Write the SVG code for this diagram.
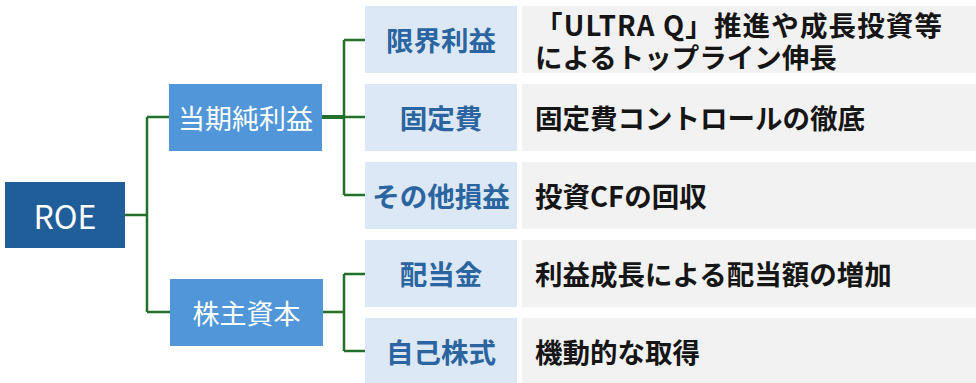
<svg xmlns="http://www.w3.org/2000/svg" width="976" height="383" viewBox="0 0 976 383">
<style>
.root{fill:#1F5E99}
.mid{fill:#5096D8}
.lab{fill:#DCE8F5}
.desc{fill:#F2F2F2}
.t{font-family:"Noto Sans CJK JP","Noto Sans",sans-serif}
.tw{fill:#FFFFFF;font-size:27px;text-anchor:middle;dominant-baseline:central}
.tl{fill:#2A64A1;font-size:27.5px;font-weight:bold;text-anchor:middle;dominant-baseline:central}
.td{fill:#151515;font-size:27.5px;font-weight:bold;dominant-baseline:central}
.c{fill:none;stroke:#22702A;stroke-width:2.5}
</style>
<rect width="976" height="383" fill="#FFFFFF"/>
<g id="connectors">
<path class="c" d="M125,215 H147 M147,117 V312 M147,117 H169 M147,312 H170"/>
<path class="c" d="M322,117 H365 M344,40 V195 M344,40 H365 M344,195 H365"/>
<path class="c" d="M323,312 H344 M344,274 V351 M344,274 H365 M344,351 H365"/>
<path fill="none" stroke="#22702A" stroke-width="4" d="M322,117 H344"/>
</g>
<g id="roe"><rect class="root" x="5" y="182" width="120" height="66"/><text class="t tw" x="65" y="215" style="font-size:32px">ROE</text></g>
<g id="net-income"><rect class="mid" x="169" y="84" width="153" height="67"/><text class="t tw" x="245.5" y="117">当期純利益</text></g>
<g id="equity"><rect class="mid" x="170" y="279" width="153" height="67"/><text class="t tw" x="246.5" y="312">株主資本</text></g>
<g id="marginal-profit"><rect class="lab" x="365" y="6" width="152" height="67"/><text class="t tl" x="441" y="39">限界利益</text><rect class="desc" x="522" y="6" width="454" height="67"/><text class="t td"><tspan x="535" y="23.5" textLength="407" lengthAdjust="spacing">「ULTRA Q」推進や成長投資等</tspan><tspan x="535" y="56">によるトップライン伸長</tspan></text></g>
<g id="fixed-cost"><rect class="lab" x="365" y="84" width="152" height="67"/><text class="t tl" x="441" y="117">固定費</text><rect class="desc" x="522" y="84" width="454" height="67"/><text class="t td" x="535" y="117">固定費コントロールの徹底</text></g>
<g id="other"><rect class="lab" x="365" y="162" width="152" height="67"/><text class="t tl" x="441" y="195">その他損益</text><rect class="desc" x="522" y="162" width="454" height="67"/><text class="t td" x="535" y="195">投資CFの回収</text></g>
<g id="dividend"><rect class="lab" x="365" y="240" width="152" height="67"/><text class="t tl" x="441" y="273">配当金</text><rect class="desc" x="522" y="240" width="454" height="67"/><text class="t td" x="535" y="273">利益成長による配当額の増加</text></g>
<g id="treasury"><rect class="lab" x="365" y="318" width="152" height="65"/><text class="t tl" x="441" y="351">自己株式</text><rect class="desc" x="522" y="318" width="454" height="65"/><text class="t td" x="535" y="351">機動的な取得</text></g>
</svg>
